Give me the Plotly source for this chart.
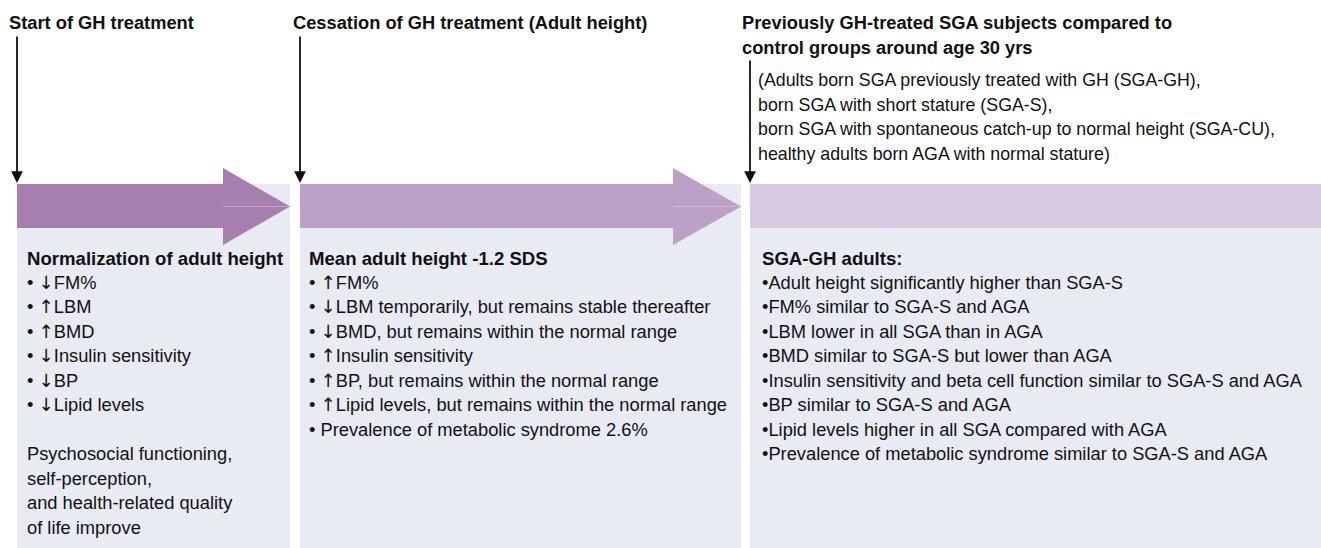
import plotly.graph_objects as go

W, H = 1321, 548
FONT = "Liberation Sans, Arial, sans-serif"

# ---- text data ----
stage_titles = ["Start of GH treatment",
                "Cessation of GH treatment (Adult height)",
                "Previously GH-treated SGA subjects compared to<br>control groups around age 30 yrs"]
control_groups = ["(Adults born SGA previously treated with GH (SGA-GH),",
                  "born SGA with short stature (SGA-S),",
                  "born SGA with spontaneous catch-up to normal height (SGA-CU),",
                  "healthy adults born AGA with normal stature)"]
panel_heads = ["Normalization of adult height", "Mean adult height -1.2 SDS", "SGA-GH adults:"]
panel1_items = ["• ↓FM%", "• ↑LBM", "• ↑BMD", "• ↓Insulin sensitivity", "• ↓BP", "• ↓Lipid levels",
                "", "Psychosocial functioning,", "self-perception,",
                "and health-related quality", "of life improve"]
panel2_items = ["• ↑FM%", "• ↓LBM temporarily, but remains stable thereafter",
                "• ↓BMD, but remains within the normal range", "• ↑Insulin sensitivity",
                "• ↑BP, but remains within the normal range",
                "• ↑Lipid levels, but remains within the normal range",
                "• Prevalence of metabolic syndrome 2.6%"]
panel3_items = ["•Adult height significantly higher than SGA-S", "•FM% similar to SGA-S and AGA",
                "•LBM lower in all SGA than in AGA", "•BMD similar to SGA-S but lower than AGA",
                "•Insulin sensitivity and beta cell function similar to SGA-S and AGA",
                "•BP similar to SGA-S and AGA", "•Lipid levels higher in all SGA compared with AGA",
                "•Prevalence of metabolic syndrome similar to SGA-S and AGA"]

# ---- layout geometry ----
panel_x0 = [17, 300, 750]
panel_x1 = [290, 741, 1321]
band_end = [223, 673, 1321]
band_colors = ["#a67fae", "#bca0c6", "#d9c9e0"]
box_color = "#e9ebf3"
band_top, band_bot = 184, 228
tri_top, tri_bot, tri_mid = 168, 245, 206.5

fig = go.Figure()
shapes = []
annotations = []

for i in range(3):
    shapes.append(dict(type="rect", xref="x", yref="y", x0=panel_x0[i], x1=panel_x1[i],
                       y0=band_top, y1=H, fillcolor=box_color, line=dict(width=0), layer="below"))
    shapes.append(dict(type="rect", xref="x", yref="y", x0=panel_x0[i], x1=band_end[i],
                       y0=band_top, y1=band_bot, fillcolor=band_colors[i], line=dict(width=0)))
    if i < 2:
        bx, tip = band_end[i], panel_x1[i]
        shapes.append(dict(type="path", xref="x", yref="y",
                           path=f"M {bx},{tri_top} L {tip},{tri_mid} L {bx},{tri_bot} Z",
                           fillcolor=band_colors[i], line=dict(width=0)))
        shapes.append(dict(type="line", xref="x", yref="y", x0=bx, x1=tip - 2, y0=tri_mid, y1=tri_mid,
                           line=dict(color="rgba(255,255,255,0.3)", width=1)))

# vertical arrows
arrow_starts = [35, 35, 59]
for i in range(3):
    annotations.append(dict(x=panel_x0[i], y=band_top - 1, ax=panel_x0[i], ay=arrow_starts[i],
                            xref="x", yref="y", axref="x", ayref="y", text="", showarrow=True,
                            arrowhead=2, arrowsize=1.3, arrowwidth=1.8, arrowcolor="#111111"))

def style_arrows(s):
    for a in ("↑", "↓"):
        s = s.replace(a, f'<span style="font-family:DejaVu Sans">{a}</span>')
    return s

def txt(x, y, s, size=18, bold=False):
    s = style_arrows(s)
    if bold:
        s = "<b>" + s + "</b>"
    annotations.append(dict(x=x, y=y, xref="x", yref="y", text=s, showarrow=False,
                            xanchor="left", yanchor="middle", align="left",
                            font=dict(family=FONT, size=size, color="#111111")))

title_x = [7, 291, 740]
txt(title_x[0], 22, stage_titles[0], 18.3, True)
txt(title_x[1], 22, stage_titles[1], 18.3, True)
for k, line in enumerate(stage_titles[2].split("<br>")):
    txt(title_x[2], 22 + 25 * k, line, 18.3, True)

for k, line in enumerate(control_groups):
    txt(756, 80 + 24.5 * k, line, 17.8)

head_x = [25, 307, 760]
items = [panel1_items, panel2_items, panel3_items]
for i in range(3):
    txt(head_x[i], 258, panel_heads[i], 18.6, True)
    for k, line in enumerate(items[i]):
        if line:
            txt(head_x[i], 282 + 24.5 * k, line, 18.3)

fig.update_layout(
    width=W, height=H, margin=dict(l=0, r=0, t=0, b=0),
    paper_bgcolor="white", plot_bgcolor="white",
    xaxis=dict(range=[0, W], visible=False, fixedrange=True),
    yaxis=dict(range=[H, 0], visible=False, fixedrange=True),
    shapes=shapes, annotations=annotations, showlegend=False,
)
fig.write_html("out.html", config={"displayModeBar": False})

with open("out.html", encoding="utf-8") as f:
    html = f.read()
html = html.replace("<head>", "<head><style>html,body{margin:0;padding:0;overflow:hidden}</style>", 1)
with open("out.html", "w", encoding="utf-8") as f:
    f.write(html)
